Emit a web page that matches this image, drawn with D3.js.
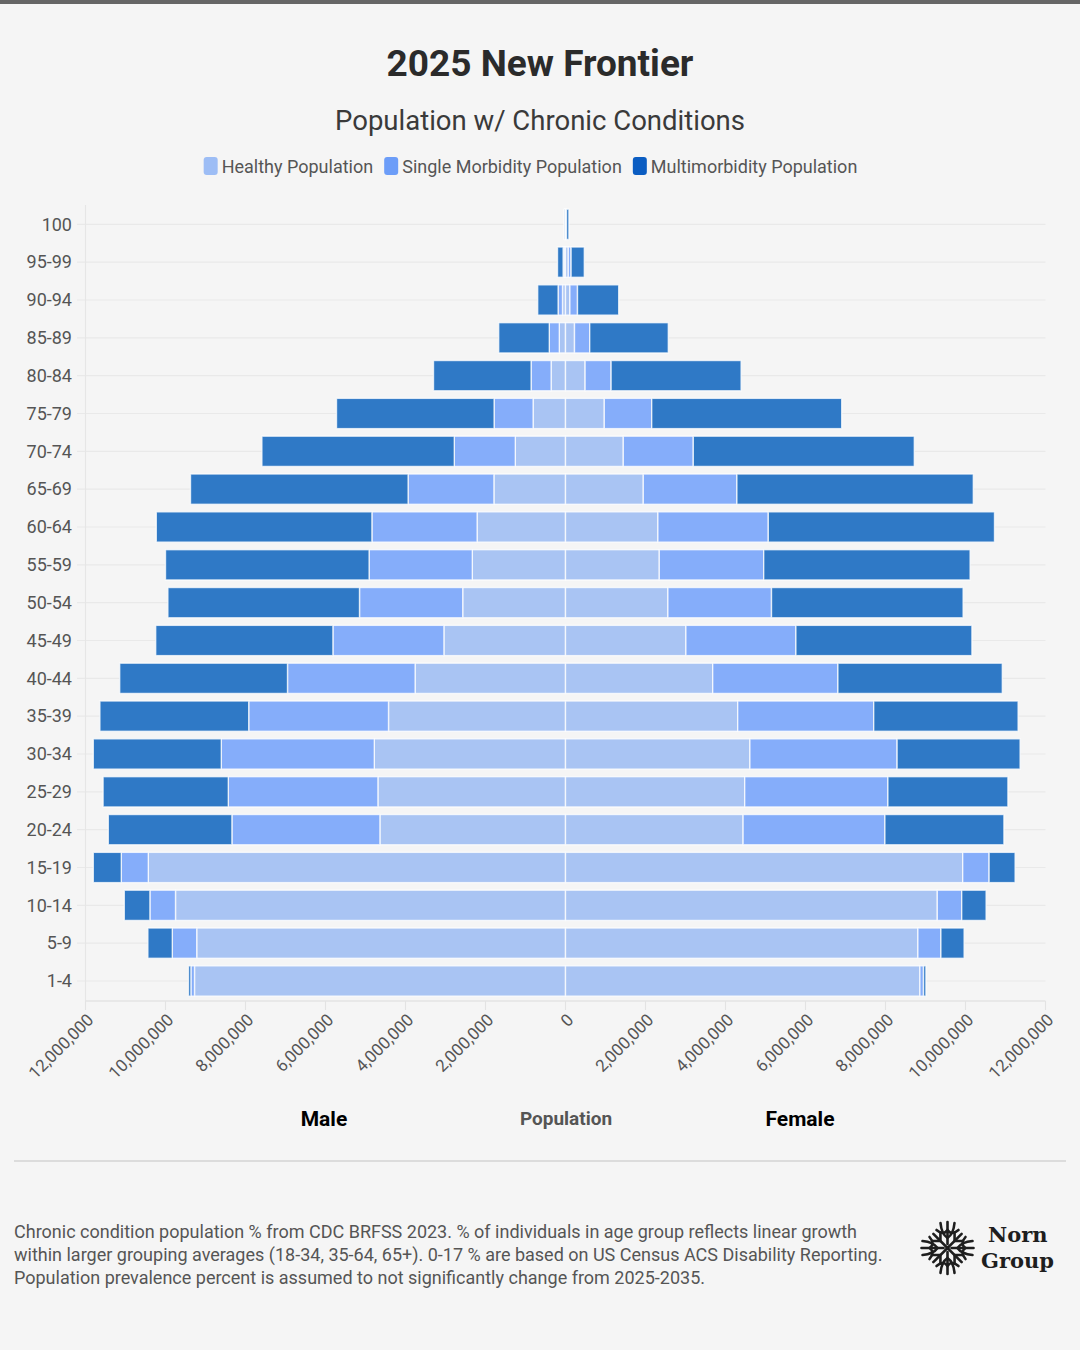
<!DOCTYPE html>
<html><head><meta charset="utf-8">
<script src="https://cdn.jsdelivr.net/npm/d3@7"></script>
<style>
html,body{margin:0;padding:0;background:#f5f5f5;}
svg{display:block;font-family:Roboto,"Noto Sans",sans-serif;}
</style></head><body>
<svg id="chart" width="1080" height="1350"></svg>
<script>
// ---- data (millions of people) ----
const ages = ["100","95-99","90-94","85-89","80-84","75-79","70-74","65-69","60-64","55-59","50-54","45-49","40-44","35-39","30-34","25-29","20-24","15-19","10-14","5-9","1-4"];
const maleHealthy  = [0.015,0.03,0.075,0.155,0.36,0.81,1.255,1.79,2.21,2.33,2.57,3.04,3.76,4.425,4.78,4.69,4.64,10.43,9.75,9.22,9.275];
const maleSingle   = [0.01,0.03,0.11,0.25,0.50,0.975,1.525,2.145,2.63,2.58,2.58,2.775,3.19,3.495,3.825,3.74,3.70,0.675,0.64,0.61,0.09];
const maleMulti    = [0.01,0.14,0.51,1.265,2.44,3.94,4.81,5.44,5.39,5.09,4.79,4.43,4.195,3.72,3.20,3.13,3.09,0.70,0.64,0.61,0.06];
const femaleHealthy= [0.015,0.07,0.11,0.225,0.49,0.97,1.445,1.945,2.31,2.345,2.56,3.01,3.68,4.305,4.61,4.48,4.44,9.93,9.295,8.81,8.86];
const femaleSingle = [0.01,0.07,0.19,0.38,0.65,1.185,1.75,2.34,2.76,2.61,2.59,2.75,3.13,3.40,3.68,3.58,3.545,0.66,0.61,0.575,0.09];
const femaleMulti  = [0.06,0.33,1.03,1.965,3.25,4.75,5.525,5.91,5.655,5.16,4.79,4.40,4.11,3.61,3.075,3.00,2.975,0.65,0.61,0.58,0.06];
const seriesNames = ["Healthy Population","Single Morbidity Population","Multimorbidity Population"];
const tickValues = [-12e6,-10e6,-8e6,-6e6,-4e6,-2e6,0,2e6,4e6,6e6,8e6,10e6,12e6];

const barColors = ["#a9c4f3","#85adfa","#2f79c6"];
const legendColors = ["#9dbdf5","#6c9df8","#0b5dc2"];

const svg = d3.select("#chart");
svg.append("rect").attr("width",1080).attr("height",1350).attr("fill","#f5f5f5");
svg.append("rect").attr("width",1080).attr("height",4).attr("fill","#666");

// titles
svg.append("text").attr("x",540).attr("y",76).attr("text-anchor","middle")
  .attr("font-size",37).attr("font-weight",700).attr("fill","#2b2b2b").text("2025 New Frontier");
svg.append("text").attr("x",540).attr("y",130).attr("text-anchor","middle")
  .attr("font-size",27.5).attr("fill","#3a3a3a").text("Population w/ Chronic Conditions");

// legend
const lg = svg.append("g");
let lx = 0;
seriesNames.forEach((n,i)=>{
  const g = lg.append("g").attr("transform",`translate(${lx},0)`);
  g.append("rect").attr("x",0).attr("y",157).attr("width",14).attr("height",18).attr("rx",3).attr("fill",legendColors[i]);
  const t = g.append("text").attr("x",18).attr("y",172.5).attr("font-size",18).attr("fill","#555").text(n);
  lx += 18 + t.node().getComputedTextLength() + 11;
});
lx -= 11;
lg.attr("transform",`translate(${530.5 - lx/2},0)`);

// scales
const x = d3.scaleLinear().domain([-12e6,12e6]).range([85.5,1045.5]);
const y = d3.scaleBand().domain(ages).range([205.4,999.9]).paddingInner(0.2).paddingOuter(0.1);

// gridlines
const grid = svg.append("g");
ages.forEach(a=>{
  const cy = y(a)+y.bandwidth()/2;
  grid.append("line").attr("x1",77).attr("x2",1045.5).attr("y1",cy).attr("y2",cy)
    .attr("stroke","#e9e9e9").attr("stroke-width",1.2);
});
grid.append("line").attr("x1",85.5).attr("x2",85.5).attr("y1",205).attr("y2",1001)
  .attr("stroke","#e6e6e6").attr("stroke-width",1.2);

// y labels
svg.append("g").selectAll("text").data(ages).join("text")
  .attr("x",72).attr("y",d=>y(d)+y.bandwidth()/2).attr("dy","0.35em")
  .attr("text-anchor","end").attr("font-size",18).attr("fill","#555").text(d=>d);

// bars
const male = [maleHealthy, maleSingle, maleMulti];
const female = [femaleHealthy, femaleSingle, femaleMulti];
const bars = svg.append("g");
ages.forEach((a,i)=>{
  let cm = 0, cf = 0;
  for (let k=0;k<3;k++){
    const vm = male[k][i]*1e6, vf = female[k][i]*1e6;
    bars.append("rect").attr("x",x(-(cm+vm))).attr("width",x(-cm)-x(-(cm+vm)))
      .attr("y",y(a)).attr("height",y.bandwidth()).attr("fill",barColors[k])
      .attr("stroke","#fff").attr("stroke-opacity",0.75).attr("stroke-width",1.4);
    bars.append("rect").attr("x",x(cf)).attr("width",x(cf+vf)-x(cf))
      .attr("y",y(a)).attr("height",y.bandwidth()).attr("fill",barColors[k])
      .attr("stroke","#fff").attr("stroke-opacity",0.75).attr("stroke-width",1.4);
    cm += vm; cf += vf;
  }
});

// x axis
const ax = svg.append("g");
ax.append("line").attr("x1",85.5).attr("x2",1045.5).attr("y1",1001).attr("y2",1001)
  .attr("stroke","#e3e3e3").attr("stroke-width",1.5);
const fmt = d3.format(",");
tickValues.forEach(v=>{
  ax.append("line").attr("x1",x(v)).attr("x2",x(v)).attr("y1",1001).attr("y2",1010)
    .attr("stroke","#e3e3e3").attr("stroke-width",1.2);
  ax.append("text").attr("transform",`translate(${x(v)+9},1021) rotate(-45)`)
    .attr("text-anchor","end").attr("font-size",17).attr("fill","#555").text(fmt(Math.abs(v)));
});

// axis titles
svg.append("text").attr("x",324).attr("y",1126).attr("text-anchor","middle")
  .attr("font-size",21).attr("font-weight",700).attr("fill","#000").text("Male");
svg.append("text").attr("x",566).attr("y",1125).attr("text-anchor","middle")
  .attr("font-size",19).attr("font-weight",700).attr("fill","#555").text("Population");
svg.append("text").attr("x",800).attr("y",1126).attr("text-anchor","middle")
  .attr("font-size",21).attr("font-weight",700).attr("fill","#000").text("Female");

// separator
svg.append("line").attr("x1",14).attr("x2",1066).attr("y1",1161).attr("y2",1161)
  .attr("stroke","#dcdcdc").attr("stroke-width",2);

// footer
const foot = [
 "Chronic condition population % from CDC BRFSS 2023. % of individuals in age group reflects linear growth",
 "within larger grouping averages (18-34, 35-64, 65+). 0-17 % are based on US Census ACS Disability Reporting.",
 "Population prevalence percent is assumed to not significantly change from 2025-2035."
];
svg.append("g").selectAll("text").data(foot).join("text")
  .attr("x",14).attr("y",(d,i)=>1238+i*23).attr("font-size",18).attr("fill","#555").text(d=>d);

// logo
const logo = svg.append("g").attr("transform","translate(947.5,1248)")
  .attr("fill","none").attr("stroke","#1e1e1e").attr("stroke-width",2.6).attr("stroke-linecap","round");
[0,90,180,270].forEach(r=>{
  const g = logo.append("g").attr("transform",`rotate(${r})`);
  g.append("path").attr("d","M0,-4 L0,-26");
  g.append("path").attr("d","M-7,-25 Q-6,-14 0,-10 Q6,-14 7,-25");
  g.append("path").attr("d","M-11,-18 Q-4,-12 0,-18 Q4,-12 11,-18");
});
[45,135,225,315].forEach(r=>{
  const g = logo.append("g").attr("transform",`rotate(${r})`);
  g.append("path").attr("d","M0,0 L0,-20");
  g.append("path").attr("d","M-6,-16 L0,-10 L6,-16");
});
svg.append("text").attr("x",988).attr("y",1242).attr("font-family","'DejaVu Serif',serif")
  .attr("font-size",21).attr("font-weight",700).attr("fill","#1e1e1e").text("Norn");
svg.append("text").attr("x",981).attr("y",1268).attr("font-family","'DejaVu Serif',serif")
  .attr("font-size",21).attr("font-weight",700).attr("fill","#1e1e1e").text("Group");
</script>
</body></html>
